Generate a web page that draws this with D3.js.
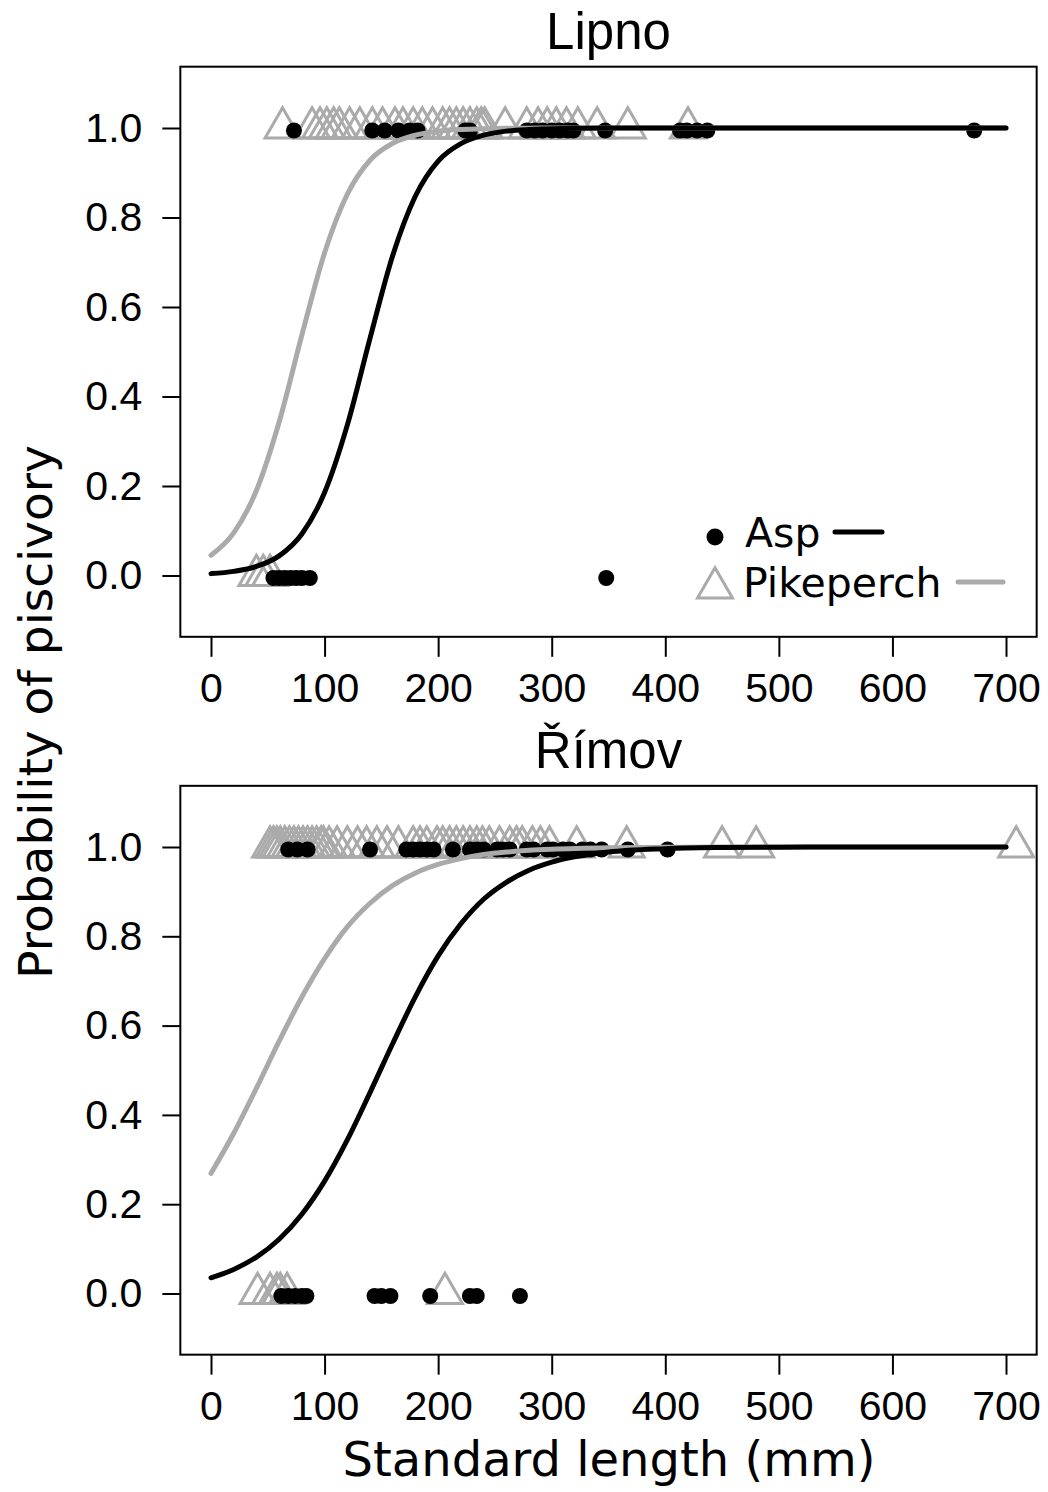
<!DOCTYPE html>
<html>
<head>
<meta charset="utf-8">
<script src="https://cdn.jsdelivr.net/npm/d3@7"></script>
<style>
  body { margin: 0; background: #fff; }
  .tick text { font-family: "Liberation Sans", Arial, sans-serif; font-size: 41px; fill: #000; }
  .tick line { stroke: #000; stroke-width: 2; }
</style>
</head>
<body>
<div id="chart"></div>
<script>
// observed fish, standard length (mm), split by piscivory (1 = fish in diet)
const lipnoAsp1 = [73, 142, 153, 165, 175, 182, 224, 228, 278, 285, 292, 300, 307, 314, 319, 347, 413, 419, 428, 437, 672]
const lipnoAsp0 = [55, 60, 65, 70, 75, 80, 87, 348]
const lipnoPike1 = [63, 89, 96, 102, 108, 113, 122, 131, 142, 151, 162, 169, 178, 186, 195, 204, 210, 216, 222, 228, 234, 238, 241, 259, 278, 288, 296, 304, 313, 323, 340, 367, 420]
const lipnoPike0 = [40, 46, 52]

const rimovAsp1 = [68, 76, 85, 140, 172, 178, 184, 190, 196, 213, 228, 234, 240, 252, 257, 263, 278, 284, 296, 301, 310, 316, 327, 334, 344, 367, 402]
const rimovAsp0 = [62, 68, 74, 80, 84, 144, 150, 158, 193, 228, 234, 272]
const rimovPike1 = [52, 55, 58, 61, 65, 69, 73, 77, 81, 85, 89, 93, 97, 99, 104, 111, 120, 129, 137, 146, 155, 165, 178, 184, 190, 199, 204, 210, 216, 222, 228, 234, 239, 245, 254, 263, 269, 274, 283, 290, 298, 322, 366, 450, 480, 709]
const rimovPike0 = [41, 52, 58, 61, 67, 206]

// fitted curves at these lengths
const curveX = [0, 20, 40, 60, 80, 100, 120, 140, 160, 180, 200, 220, 240, 260, 280, 300, 350, 400, 450, 500, 550, 600, 650, 700]
const lipnoAspFit = [.0042, .0092, .0202, .0439, .0928, .1854, .336, .530, .715, .848, .926, .965, .984, .993, .9967, .9985, .9998, 1, 1, 1, 1, 1, 1, 1]
const lipnoPikeFit = [.0452, .0953, .190, .343, .537, .721, .852, .928, .966, .984, .993, .9968, .9986, .9994, .9997, .9999, 1, 1, 1, 1, 1, 1, 1, 1]
const rimovAspFit = [.0352, .0539, .0815, .1215, .1774, .2516, .344, .450, .560, .665, .756, .828, .883, .921, .948, .966, .9886, .9962, .9988, .9996, .9999, 1, 1, 1]
const rimovPikeFit = [.269, .359, .460, .565, .664, .750, .821, .874, .914, .942, .961, .974, .983, .9886, .9925, .9950, .9983, .9994, .9998, 1, 1, 1, 1, 1]

const xTicks = [0, 100, 200, 300, 400, 500, 600, 700]
const yTicks = [0, 0.2, 0.4, 0.6, 0.8, 1.0]
const legendNames = ["Asp", "Pikeperch"]

const width = 1048
const height = 1492
const grey = "#aaaaaa"
const sansV = "'DejaVu Sans', Verdana, sans-serif"
const sansA = "'Liberation Sans', Arial, sans-serif"

const svg = d3.select('#chart').append('svg')
    .attr('width', width)
    .attr('height', height)

const x = d3.scaleLinear().domain([0, 700]).range([211, 1006])

const panels = [
  { title: "Lipno", y0: 575.5, y1: 128, asp1: lipnoAsp1, asp0: lipnoAsp0, pike1: lipnoPike1, pike0: lipnoPike0, aspFit: lipnoAspFit, pikeFit: lipnoPikeFit, legend: true },
  { title: "Římov", y0: 1293.5, y1: 847, asp1: rimovAsp1, asp0: rimovAsp0, pike1: rimovPike1, pike0: rimovPike0, aspFit: rimovAspFit, pikeFit: rimovPikeFit, legend: false }
]

const tri = d3.symbol().type(d3.symbolTriangle).size(530)

panels.forEach(p => {
  const y = d3.scaleLinear().domain([0, 1]).range([p.y0, p.y1])
  const g = svg.append('g')

  const left = x(-27), right = x(727)
  const top = y(1.137), bottom = y(-0.137)

  g.append('rect')
    .attr('x', left).attr('y', top)
    .attr('width', right - left).attr('height', bottom - top)
    .attr('fill', 'none').attr('stroke', '#000').attr('stroke-width', 2)

  g.append('text')
    .attr('x', (left + right) / 2)
    .attr('y', top - 18)
    .attr('text-anchor', 'middle')
    .style('font-family', sansA).style('font-size', '51px')
    .text(p.title)

  const yAxis = g.append('g')
    .attr('transform', `translate(${left},0)`)
    .call(d3.axisLeft(y).tickValues(yTicks).tickFormat(d3.format(".1f")).tickSize(18).tickPadding(20))
  yAxis.select('.domain').remove()

  const xAxis = g.append('g')
    .attr('transform', `translate(0,${bottom})`)
    .call(d3.axisBottom(x).tickValues(xTicks).tickSize(20).tickPadding(16))
  xAxis.select('.domain').remove()

  // pikeperch triangles
  const pikePts = p.pike1.map(v => ({ v, s: 1 })).concat(p.pike0.map(v => ({ v, s: 0 })))
  g.selectAll('path.pike').data(pikePts).enter().append('path')
    .attr('class', 'pike')
    .attr('d', tri)
    .attr('transform', d => `translate(${x(d.v)},${y(d.s)})`)
    .attr('fill', 'none').attr('stroke', grey).attr('stroke-width', 3)

  // asp dots
  const aspPts = p.asp1.map(v => ({ v, s: 1 })).concat(p.asp0.map(v => ({ v, s: 0 })))
  g.selectAll('circle.asp').data(aspPts).enter().append('circle')
    .attr('class', 'asp')
    .attr('cx', d => x(d.v))
    .attr('cy', d => y(d.s) + 2.5)
    .attr('r', 8)
    .attr('fill', '#000')

  const line = d3.line()
    .x((d, i) => x(curveX[i]))
    .y(d => y(d))
    .curve(d3.curveMonotoneX)

  g.append('path').datum(p.pikeFit)
    .attr('d', line).attr('fill', 'none')
    .attr('stroke', grey).attr('stroke-width', 5).attr('stroke-linecap', 'round')
  g.append('path').datum(p.aspFit)
    .attr('d', line).attr('fill', 'none')
    .attr('stroke', '#000').attr('stroke-width', 5).attr('stroke-linecap', 'round')

  if (p.legend) {
    const lg = svg.append('g').attr('class', 'legend')
    // Asp row
    lg.append('circle').attr('cx', 715).attr('cy', 537).attr('r', 8.5).attr('fill', '#000')
    lg.append('text').attr('x', 745).attr('y', 547)
      .style('font-family', sansV).style('font-size', '41px').text(legendNames[0])
    lg.append('line').attr('x1', 835).attr('x2', 882).attr('y1', 532).attr('y2', 532)
      .attr('stroke', '#000').attr('stroke-width', 5).attr('stroke-linecap', 'round')
    // Pikeperch row
    lg.append('path').attr('d', tri).attr('transform', 'translate(715,588)')
      .attr('fill', 'none').attr('stroke', grey).attr('stroke-width', 3)
    lg.append('text').attr('x', 743).attr('y', 597)
      .style('font-family', sansV).style('font-size', '41px').text(legendNames[1])
    lg.append('line').attr('x1', 958).attr('x2', 1003).attr('y1', 582).attr('y2', 582)
      .attr('stroke', grey).attr('stroke-width', 5).attr('stroke-linecap', 'round')
  }
})

svg.append('text')
  .attr('transform', 'translate(52,712) rotate(-90)')
  .attr('text-anchor', 'middle')
  .style('font-family', sansV).style('font-size', '47px')
  .text('Probability of piscivory')

svg.append('text')
  .attr('x', 609).attr('y', 1476)
  .attr('text-anchor', 'middle')
  .style('font-family', sansV).style('font-size', '48px')
  .text('Standard length (mm)')
</script>
</body>
</html>
